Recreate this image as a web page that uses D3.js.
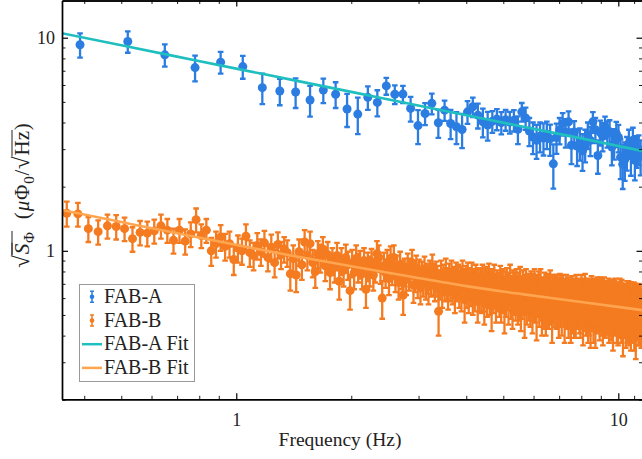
<!DOCTYPE html>
<html>
<head>
<meta charset="utf-8">
<script src="https://cdn.jsdelivr.net/npm/d3@7"></script>
<style>
	body { margin: 0; background: #fff; }
	svg { display: block; }
</style>
</head>
<body>
<svg id="chart" width="642" height="459"></svg>
<script>
// frequency grids (Hz): evenly spaced bins
var freqAStart = 0.39, freqAStep = 0.13;
var freqBStart = 0.36, freqBStep = 0.025;

// FAB-A noise values and errors (uPhi0/sqrt(Hz))
var valA = [
	9.27, 9.60, 8.31, 7.24, 7.68, 7.32, 5.83, 5.62, 5.56, 5.10,
	5.68, 5.43, 4.63, 4.38, 5.25, 4.97, 5.94, 5.43, 5.44, 4.66,
	3.87, 4.41, 4.92, 3.99, 4.57, 3.96, 3.82, 3.71, 4.49, 4.74,
	4.33, 4.03, 3.89, 4.05, 4.15, 4.00, 4.12, 4.02, 4.10, 3.72,
	4.49, 4.20, 3.65, 3.42, 3.30, 3.45, 3.38, 3.52, 3.35, 2.56,
	3.40, 3.68, 3.95, 3.60, 4.03, 3.13, 3.61, 3.10, 3.20, 2.95,
	3.15, 3.50, 3.30, 4.03, 3.70, 2.80, 3.60, 3.45, 3.81, 3.55,
	3.62, 3.07, 3.20, 3.55, 3.40, 2.75, 2.55, 2.68, 2.90, 3.20,
	2.80, 3.30, 2.66, 2.95, 3.00, 2.78
];
var errA = [
	1.20, 1.10, 1.00, 1.00, 0.90, 0.90, 0.95, 0.80, 0.88, 0.84,
	0.75, 0.75, 0.82, 0.85, 0.66, 0.70, 0.54, 0.55, 0.50, 0.62,
	0.70, 0.52, 0.55, 0.60, 0.50, 0.62, 0.65, 0.68, 0.55, 0.50,
	0.58, 0.62, 0.60, 0.47, 0.47, 0.48, 0.46, 0.47, 0.47, 0.55,
	0.45, 0.50, 0.55, 0.58, 0.60, 0.55, 0.58, 0.52, 0.56, 0.60,
	0.55, 0.52, 0.48, 0.55, 0.48, 0.58, 0.45, 0.60, 0.55, 0.58,
	0.55, 0.50, 0.52, 0.45, 0.50, 0.50, 0.48, 0.52, 0.45, 0.50,
	0.48, 0.55, 0.52, 0.48, 0.50, 0.58, 0.60, 0.55, 0.52, 0.50,
	0.55, 0.48, 0.52, 0.50, 0.48, 0.52
];

// FAB-B noise values and errors
var valB = [
	1.50, 1.49, 1.27, 1.23, 1.31, 1.30, 1.27, 1.14, 1.22, 1.21, 1.24, 1.31, 1.25, 1.12, 1.25, 1.11, 1.20, 1.40, 1.18, 1.25,
	1.00, 1.08, 1.16, 1.05, 1.08, 0.91, 1.03, 1.00, 1.17, 0.98, 0.95, 1.06, 0.99, 1.09, 0.93, 1.04, 0.88, 1.07, 0.96, 1.02,
	0.98, 0.78, 0.92, 0.77, 0.99, 0.86, 1.10, 0.95, 1.08, 0.88, 0.80, 0.97, 0.93, 1.02, 0.85, 0.96, 0.79, 0.90, 0.84, 0.95,
	0.72, 0.90, 0.81, 0.93, 0.86, 0.65, 0.88, 0.79, 0.92, 0.84, 0.87, 0.78, 0.90, 0.66, 0.85, 0.81, 0.89, 0.77, 0.84, 0.97,
	0.93, 0.82, 0.60, 0.85, 0.79, 0.88, 0.74, 0.92, 0.81, 0.93, 0.76, 0.83, 0.71, 0.86, 0.78, 0.62, 0.80, 0.74, 0.84, 0.77,
	0.80, 0.88, 0.69, 0.76, 0.83, 0.72, 0.79, 0.67, 0.77, 0.73, 0.82, 0.70, 0.75, 0.68, 0.78, 0.72, 0.84, 0.74, 0.69, 0.77,
	0.73, 0.52, 0.70, 0.78, 0.66, 0.74, 0.69, 0.80, 0.71, 0.64, 0.75, 0.70, 0.78, 0.67, 0.72, 0.63, 0.76, 0.69, 0.74, 0.66,
	0.72, 0.65, 0.78, 0.70, 0.59, 0.73, 0.68, 0.76, 0.64, 0.71, 0.67, 0.75, 0.62, 0.70, 0.66, 0.74, 0.69, 0.58, 0.71, 0.65,
	0.70, 0.63, 0.74, 0.66, 0.57, 0.69, 0.72, 0.61, 0.67, 0.75, 0.64, 0.68, 0.55, 0.70, 0.63, 0.73, 0.66, 0.60, 0.69, 0.64,
	0.67, 0.61, 0.72, 0.58, 0.66, 0.70, 0.63, 0.54, 0.68, 0.62, 0.71, 0.65, 0.59, 0.67, 0.73, 0.60, 0.64, 0.56, 0.69, 0.62,
	0.66, 0.59, 0.70, 0.63, 0.57, 0.67, 0.61, 0.72, 0.55, 0.64, 0.60, 0.68, 0.62, 0.53, 0.65, 0.70, 0.58, 0.63, 0.66, 0.60,
	0.64, 0.57, 0.68, 0.61, 0.55, 0.66, 0.60, 0.70, 0.58, 0.63, 0.52, 0.65, 0.61, 0.67, 0.56, 0.62, 0.69, 0.59, 0.54, 0.63,
	0.62, 0.56, 0.67, 0.60, 0.53, 0.64, 0.58, 0.66, 0.61, 0.55, 0.63, 0.68, 0.57, 0.60, 0.51, 0.65, 0.59, 0.62, 0.56, 0.64,
	0.61, 0.55, 0.65, 0.58, 0.62, 0.52, 0.60, 0.66, 0.57, 0.63, 0.54, 0.59, 0.64, 0.56, 0.61, 0.50, 0.62, 0.58, 0.65, 0.55,
	0.60, 0.55, 0.52, 0.63, 0.57, 0.61, 0.49, 0.59, 0.64, 0.54, 0.58, 0.62, 0.53, 0.56, 0.60, 0.51, 0.65, 0.57, 0.55, 0.61,
	0.56, 0.62, 0.53, 0.59, 0.51, 0.57, 0.63, 0.55, 0.60, 0.48, 0.58, 0.61, 0.54, 0.64, 0.57, 0.52, 0.59, 0.55, 0.62, 0.50,
	0.59, 0.53, 0.61, 0.56, 0.49, 0.58, 0.63, 0.54, 0.57, 0.60, 0.51, 0.62, 0.55, 0.58, 0.47, 0.60, 0.56, 0.53, 0.61, 0.57,
	0.54, 0.60, 0.57, 0.50, 0.62, 0.55, 0.58, 0.52, 0.61, 0.56, 0.48, 0.59, 0.54, 0.63, 0.57, 0.51, 0.58, 0.60, 0.53, 0.56,
	0.58, 0.52, 0.55, 0.60, 0.49, 0.57, 0.54, 0.61, 0.56, 0.50, 0.59, 0.53, 0.57, 0.46, 0.60, 0.55, 0.52, 0.58, 0.62, 0.54,
	0.53, 0.57, 0.50, 0.59, 0.55, 0.48, 0.58, 0.52, 0.56, 0.61, 0.51, 0.54, 0.57, 0.49, 0.60, 0.53, 0.56, 0.45, 0.58, 0.55,
	0.56, 0.51, 0.58, 0.54, 0.47, 0.57, 0.53, 0.60, 0.50, 0.55, 0.52, 0.59, 0.48, 0.56, 0.54, 0.51, 0.58, 0.46, 0.55, 0.53,
	0.52, 0.57, 0.49, 0.55, 0.53, 0.59, 0.47, 0.54, 0.51, 0.56, 0.45, 0.58, 0.52, 0.55, 0.50, 0.57, 0.53, 0.48, 0.56, 0.51,
	0.54, 0.49, 0.56, 0.51, 0.53, 0.47
];
var errB = [
	0.20, 0.19, 0.17, 0.16, 0.17, 0.17, 0.16, 0.15, 0.16, 0.16, 0.16, 0.17, 0.16, 0.15, 0.16, 0.15, 0.16, 0.18, 0.15, 0.16,
	0.15, 0.15, 0.16, 0.15, 0.15, 0.14, 0.15, 0.14, 0.16, 0.14, 0.14, 0.15, 0.14, 0.15, 0.13, 0.15, 0.13, 0.15, 0.14, 0.14,
	0.14, 0.13, 0.14, 0.13, 0.14, 0.13, 0.15, 0.14, 0.15, 0.13, 0.13, 0.14, 0.14, 0.14, 0.13, 0.14, 0.13, 0.13, 0.13, 0.14,
	0.13, 0.13, 0.13, 0.14, 0.13, 0.12, 0.13, 0.13, 0.14, 0.13, 0.13, 0.12, 0.13, 0.12, 0.13, 0.13, 0.13, 0.12, 0.13, 0.14,
	0.13, 0.12, 0.12, 0.13, 0.12, 0.13, 0.12, 0.13, 0.12, 0.13, 0.12, 0.12, 0.12, 0.13, 0.12, 0.12, 0.12, 0.12, 0.13, 0.12,
	0.12, 0.13, 0.12, 0.12, 0.12, 0.12, 0.12, 0.11, 0.12, 0.12, 0.12, 0.11, 0.12, 0.12, 0.12, 0.11, 0.12, 0.12, 0.11, 0.12,
	0.12, 0.12, 0.11, 0.12, 0.12, 0.12, 0.11, 0.12, 0.12, 0.11, 0.12, 0.12, 0.12, 0.11, 0.12, 0.12, 0.12, 0.11, 0.12, 0.12,
	0.12, 0.13, 0.12, 0.12, 0.13, 0.12, 0.14, 0.12, 0.13, 0.12, 0.12, 0.13, 0.12, 0.12, 0.14, 0.12, 0.13, 0.12, 0.12, 0.13,
	0.13, 0.12, 0.12, 0.14, 0.12, 0.13, 0.12, 0.12, 0.13, 0.12, 0.14, 0.12, 0.13, 0.12, 0.12, 0.13, 0.12, 0.14, 0.12, 0.12,
	0.12, 0.12, 0.13, 0.12, 0.14, 0.12, 0.12, 0.13, 0.12, 0.13, 0.12, 0.12, 0.14, 0.12, 0.13, 0.12, 0.12, 0.13, 0.12, 0.12,
	0.13, 0.12, 0.12, 0.13, 0.12, 0.12, 0.14, 0.12, 0.13, 0.12, 0.12, 0.13, 0.12, 0.14, 0.12, 0.12, 0.13, 0.12, 0.12, 0.13,
	0.12, 0.13, 0.12, 0.12, 0.14, 0.12, 0.13, 0.12, 0.12, 0.13, 0.14, 0.12, 0.12, 0.13, 0.12, 0.12, 0.13, 0.12, 0.14, 0.12,
	0.12, 0.13, 0.12, 0.12, 0.13, 0.12, 0.14, 0.12, 0.13, 0.12, 0.12, 0.13, 0.12, 0.12, 0.14, 0.12, 0.13, 0.12, 0.12, 0.13,
	0.13, 0.12, 0.12, 0.14, 0.12, 0.13, 0.12, 0.12, 0.13, 0.12, 0.14, 0.12, 0.13, 0.12, 0.12, 0.13, 0.12, 0.14, 0.12, 0.12,
	0.12, 0.12, 0.13, 0.12, 0.14, 0.12, 0.12, 0.13, 0.12, 0.13, 0.12, 0.12, 0.14, 0.12, 0.13, 0.12, 0.12, 0.13, 0.12, 0.12,
	0.13, 0.12, 0.12, 0.13, 0.12, 0.12, 0.14, 0.12, 0.13, 0.12, 0.12, 0.13, 0.12, 0.14, 0.12, 0.12, 0.13, 0.12, 0.12, 0.13,
	0.12, 0.13, 0.12, 0.12, 0.14, 0.12, 0.13, 0.12, 0.12, 0.13, 0.14, 0.12, 0.12, 0.13, 0.12, 0.12, 0.13, 0.12, 0.14, 0.12,
	0.12, 0.13, 0.12, 0.12, 0.13, 0.12, 0.14, 0.12, 0.13, 0.12, 0.12, 0.13, 0.12, 0.12, 0.14, 0.12, 0.13, 0.12, 0.12, 0.13,
	0.13, 0.12, 0.12, 0.14, 0.12, 0.13, 0.12, 0.12, 0.13, 0.12, 0.14, 0.12, 0.13, 0.12, 0.12, 0.13, 0.12, 0.14, 0.12, 0.12,
	0.12, 0.12, 0.13, 0.12, 0.14, 0.12, 0.12, 0.13, 0.12, 0.13, 0.12, 0.12, 0.14, 0.12, 0.13, 0.12, 0.12, 0.13, 0.12, 0.12,
	0.13, 0.12, 0.12, 0.13, 0.12, 0.12, 0.14, 0.12, 0.13, 0.12, 0.12, 0.13, 0.12, 0.14, 0.12, 0.12, 0.13, 0.12, 0.12, 0.13,
	0.12, 0.13, 0.12, 0.12, 0.14, 0.12, 0.13, 0.12, 0.12, 0.13, 0.14, 0.12, 0.12, 0.13, 0.12, 0.12, 0.13, 0.12, 0.14, 0.12,
	0.12, 0.13, 0.12, 0.12, 0.13, 0.12
];

// fit curves
var fitFreq = [0.34, 0.5, 0.7, 1, 1.4, 2, 2.8, 4, 5.6, 8, 11.7];
var fitA = [10.60, 9.21, 8.15, 7.16, 6.34, 5.57, 4.93, 4.33, 3.83, 3.37, 2.93];
var fitB = [1.570, 1.364, 1.208, 1.066, 0.949, 0.847, 0.762, 0.683, 0.626, 0.575, 0.525];

var xMajor = [1, 10];
var xMinor = [0.4, 0.5, 0.6, 0.7, 0.8, 0.9, 2, 3, 4, 5, 6, 7, 8, 9, 11];
var yMajor = [1, 10];
var yMinor = [0.2, 0.3, 0.4, 0.5, 0.6, 0.7, 0.8, 0.9, 2, 3, 4, 5, 6, 7, 8, 9];
var legendLabels = ['FAB-A', 'FAB-B', 'FAB-A Fit', 'FAB-B Fit'];

(function() {
	'use strict';

	var colA = '#2b7de1', colB = '#f47b20';
	var colFitA = '#1fbfbf', colFitB = '#ffa54f';
	var serif = '"Liberation Serif"';
	var ink = '#222';

	var svg = d3.select('#chart');
	var left = 62, right = 642.5, top = 0.5, bottom = 399.3;

	var x = d3.scaleLog().domain([0.3498, 11.57]).range([left, right]);
	var y = d3.scaleLog().domain([0.201, 14.95]).range([bottom, top]);

	svg.append('defs').append('clipPath').attr('id', 'plotclip')
		.append('rect')
		.attr('x', left).attr('y', top)
		.attr('width', right - left).attr('height', bottom - top);

	var pointsA = valA.map(function(v, i) {
		return { f: freqAStart + freqAStep * i, v: v, e: errA[i] };
	});
	var pointsB = valB.map(function(v, i) {
		return { f: freqBStart + freqBStep * i, v: v, e: errB[i] };
	});

	var plot = svg.append('g').attr('clip-path', 'url(#plotclip)');

	var drawSeries = function(points, color) {
		var g = plot.append('g');
		g.selectAll('path.bar')
			.data(points)
			.enter().append('path')
			.attr('class', 'bar')
			.attr('fill', 'none')
			.attr('stroke', color)
			.attr('stroke-width', 2.3)
			.attr('d', function(d) {
				var px = x(d.f), y0 = y(d.v - d.e), y1 = y(d.v + d.e);
				return 'M' + px + ',' + y0 + 'V' + y1 +
					'M' + (px - 2.8) + ',' + y0 + 'h5.6' +
					'M' + (px - 2.8) + ',' + y1 + 'h5.6';
			});
		g.selectAll('circle')
			.data(points)
			.enter().append('circle')
			.attr('cx', function(d) { return x(d.f); })
			.attr('cy', function(d) { return y(d.v); })
			.attr('r', 4.5)
			.attr('fill', color);
	};
	drawSeries(pointsA, colA);
	drawSeries(pointsB, colB);

	var fitLine = function(vals) {
		return d3.line()
			.x(function(d, i) { return x(fitFreq[i]); })
			.y(function(d) { return y(d); })
			.curve(d3.curveMonotoneX)(vals);
	};
	plot.append('path').attr('d', fitLine(fitA))
		.attr('fill', 'none').attr('stroke', colFitA).attr('stroke-width', 2.6);
	plot.append('path').attr('d', fitLine(fitB))
		.attr('fill', 'none').attr('stroke', colFitB).attr('stroke-width', 2.6);

	// axes, ticks pointing inward on all four sides
	var styleAxis = function(g) {
		g.select('.domain').attr('stroke', '#000').attr('stroke-width', 1.4);
		g.selectAll('.tick line').attr('stroke', '#000').attr('stroke-width', 1.2);
		g.selectAll('.tick text')
			.style('font-family', serif)
			.style('font-size', '18px')
			.attr('fill', ink);
	};

	var addAxis = function(axisFn, scale, transform, major, minor, labelled, padding) {
		var gMinor = svg.append('g').attr('transform', transform)
			.call(axisFn(scale).tickValues(minor).tickSizeInner(-3.5).tickSizeOuter(0).tickFormat(''));
		styleAxis(gMinor);
		gMinor.selectAll('.tick line').attr('stroke-width', 0.9);
		var gMajor = svg.append('g').attr('transform', transform)
			.call(axisFn(scale).tickValues(major).tickSizeInner(-6).tickSizeOuter(0)
				.tickPadding(padding)
				.tickFormat(labelled ? d3.format('d') : ''));
		styleAxis(gMajor);
	};

	addAxis(d3.axisBottom, x, 'translate(0,' + bottom + ')', xMajor, xMinor, true, 14);
	addAxis(d3.axisTop, x, 'translate(0,' + top + ')', xMajor, xMinor, false, 3);
	addAxis(d3.axisLeft, y, 'translate(' + left + ',0)', yMajor, yMinor, true, 7);
	addAxis(d3.axisRight, y, 'translate(' + right + ',0)', yMajor, yMinor, false, 3);

	// axis titles
	svg.append('text')
		.attr('x', 340).attr('y', 446)
		.attr('text-anchor', 'middle')
		.attr('fill', ink)
		.style('font-family', serif)
		.style('font-size', '19.5px')
		.text('Frequency (Hz)');

	var yl = svg.append('g');
	var pieces = [
		{ t: '\u221A', size: 23 },
		{ t: 'S', size: 21, italic: true, over: true },
		{ t: '\u03A6', size: 15, sub: true, over: true },
		{ t: ' ', size: 21, gap: 6 },
		{ t: '(', size: 21 },
		{ t: '\u03BC', size: 21, italic: true },
		{ t: '\u03A6', size: 21 },
		{ t: '0', size: 15, sub: true },
		{ t: '/', size: 21 },
		{ t: '\u221A', size: 23 },
		{ t: 'Hz', size: 21, over: true },
		{ t: ')', size: 21 }
	];
	var cursor = 0, overStart = null;
	pieces.forEach(function(p) {
		var t = yl.append('text')
			.attr('x', cursor)
			.attr('y', p.sub ? 5 : 0)
			.attr('fill', ink)
			.style('font-family', serif)
			.style('font-size', p.size + 'px')
			.style('font-style', p.italic ? 'italic' : 'normal')
			.style('white-space', 'pre')
			.text(p.t);
		var w = t.node().getComputedTextLength() + (p.gap || 0);
		if (p.over) {
			if (overStart === null) overStart = cursor - 1;
			yl.append('line')
				.attr('x1', overStart).attr('x2', cursor + w + 1)
				.attr('y1', -17).attr('y2', -17)
				.attr('stroke', ink).attr('stroke-width', 1);
		} else {
			overStart = null;
		}
		cursor += w + 0.8;
	});
	yl.attr('transform', 'translate(29,' + (195 + cursor / 2) + ') rotate(-90)');

	// legend
	var lg = svg.append('g');
	lg.append('rect')
		.attr('x', 79.5).attr('y', 284.5)
		.attr('width', 115).attr('height', 97)
		.attr('fill', '#fff').attr('fill-opacity', 0.85)
		.attr('stroke', '#999').attr('stroke-width', 1);
	var legendColors = [colA, colB, colFitA, colFitB];
	legendLabels.forEach(function(name, i) {
		var base = 303 + i * 23.7;
		var cy = base - 6.2;
		if (i < 2) {
			lg.append('path')
				.attr('d', 'M92,' + (cy - 5.5) + 'V' + (cy + 5.5) +
					'M90,' + (cy - 5.5) + 'h4M90,' + (cy + 5.5) + 'h4')
				.attr('stroke', legendColors[i]).attr('stroke-width', 1.5).attr('fill', 'none');
			lg.append('circle').attr('cx', 92).attr('cy', cy).attr('r', 2.3)
				.attr('fill', legendColors[i]);
		} else {
			lg.append('line')
				.attr('x1', 82).attr('x2', 102)
				.attr('y1', cy).attr('y2', cy)
				.attr('stroke', legendColors[i]).attr('stroke-width', 2.5);
		}
		lg.append('text')
			.attr('x', 104).attr('y', base)
			.attr('fill', ink)
			.style('font-family', serif)
			.style('font-size', '20px')
			.text(name);
	});
})();
</script>
</body>
</html>
